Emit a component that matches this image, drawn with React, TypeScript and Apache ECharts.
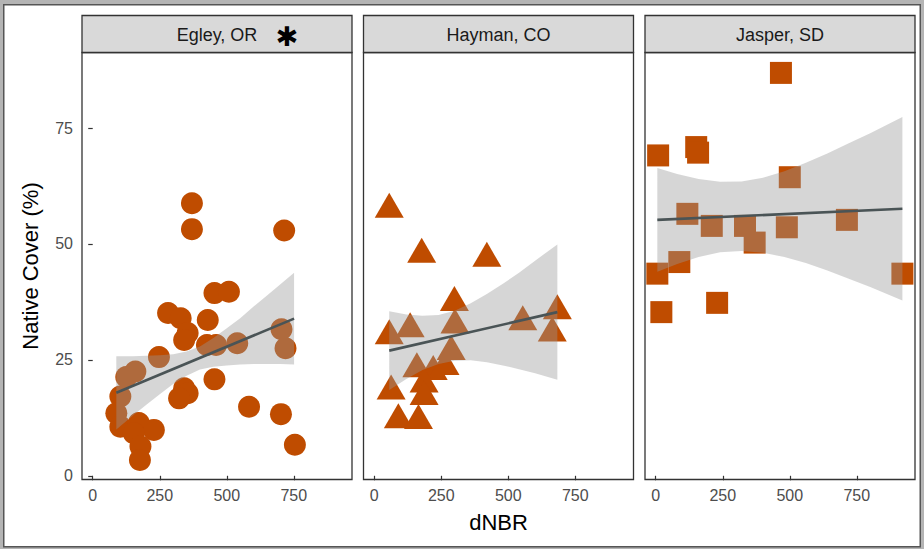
import React, { useEffect, useRef } from "react";
import * as echarts from "echarts";

// ---- data ----
const panelNames = ["Egley, OR", "Hayman, CO", "Jasper, SD"];
const xTickValues = [0, 250, 500, 750];
const yTickValues = [0, 25, 50, 75];

const egleyX = [370, 370, 714, 454, 508, 281, 328, 429, 354, 341, 426, 460, 539, 704, 719, 247, 125, 159, 341, 354, 322, 454, 103, 88, 103, 172, 228, 153, 178, 176, 583, 702, 754];
const egleyY = [58.8, 53.2, 52.9, 39.4, 39.7, 35.1, 34.0, 33.6, 30.8, 29.3, 28.2, 28.2, 28.6, 31.6, 27.5, 25.6, 21.3, 22.5, 18.9, 17.8, 16.7, 20.8, 17.1, 13.5, 10.6, 11.4, 9.9, 9.2, 6.3, 3.4, 14.9, 13.3, 6.7];

const haymanX = [56, 177, 420, 299, 683, 554, 134, 56, 301, 664, 287, 159, 220, 264, 186, 186, 63, 90, 165];
const haymanY = [57.5, 47.8, 46.9, 37.4, 35.6, 33.2, 31.7, 30.2, 32.5, 30.8, 26.8, 23.1, 22.5, 23.6, 19.8, 17.1, 18.3, 12.1, 11.9];

const jasperX = [9, 151, 158, 500, 118, 209, 333, 369, 489, 713, 88, 6, 920, 21, 229, 467];
const jasperY = [69.1, 70.9, 69.7, 64.4, 56.5, 53.9, 53.9, 50.3, 53.6, 55.2, 46.1, 43.6, 43.6, 35.3, 37.3, 86.9];

// fitted lines (end points) and confidence bands
const egleyFitX = [88, 751];
const egleyFitY = [17.9, 33.9];
const egleyBandX = [88, 150, 200, 250, 300, 350, 400, 450, 500, 550, 600, 650, 700, 751];
const egleyBandLow = [10.0, 13.0, 15.3, 17.6, 19.8, 21.6, 22.9, 23.5, 23.8, 24.0, 24.1, 24.1, 24.1, 24.0];
const egleyBandHigh = [25.8, 25.8, 25.9, 26.0, 26.2, 26.8, 27.9, 29.7, 31.8, 34.0, 36.5, 38.9, 41.3, 43.8];

const haymanFitX = [56, 683];
const haymanFitY = [27.0, 35.3];
const haymanBandX = [56, 120, 180, 240, 300, 360, 420, 480, 540, 600, 683];
const haymanBandLow = [18.5, 20.9, 22.8, 24.1, 24.8, 24.9, 24.5, 23.8, 23.0, 22.1, 20.7];
const haymanBandHigh = [35.5, 34.8, 34.5, 34.7, 35.6, 37.2, 39.2, 41.4, 43.8, 46.4, 49.9];

const jasperFitX = [6, 920];
const jasperFitY = [55.2, 57.6];
const jasperBandX = [6, 80, 160, 240, 320, 400, 480, 560, 640, 720, 800, 920];
const jasperBandLow = [44.0, 45.7, 47.2, 48.2, 48.5, 48.1, 47.2, 45.9, 44.3, 42.5, 40.7, 37.8];
const jasperBandHigh = [66.4, 65.1, 64.0, 63.4, 63.5, 64.3, 65.7, 67.5, 69.5, 71.7, 73.9, 77.4];

// ---- styling / layout ----
const FONT = "'Liberation Sans', Arial, sans-serif";
const POINT_COLOR = "#BF4C00";
const LINE_COLOR = "#4A5456";
const panelLefts = [82, 363.5, 645];
const panelTop = 52.5;
const panelW = 270;
const panelH = 427;
const stripTop = 15.5;

function zip(xs: number[], ys: number[]) {
  return xs.map((x, i) => [x, ys[i]]);
}

function bandSeries(xs: number[], lo: number[], hi: number[], idx: number) {
  return {
    type: "custom",
    xAxisIndex: idx,
    yAxisIndex: idx,
    z: 3,
    silent: true,
    data: [[xs[0], lo[0]]],
    renderItem: (params: any, api: any) => {
      const pts: number[][] = [];
      xs.forEach((x, i) => pts.push(api.coord([x, hi[i]])));
      for (let i = xs.length - 1; i >= 0; i--) pts.push(api.coord([xs[i], lo[i]]));
      return {
        type: "polygon",
        shape: { points: pts },
        style: { fill: "#999999", opacity: 0.4 },
      };
    },
  };
}

function fitSeries(xs: number[], ys: number[], idx: number) {
  return {
    type: "line",
    xAxisIndex: idx,
    yAxisIndex: idx,
    z: 4,
    silent: true,
    data: zip(xs, ys),
    showSymbol: false,
    symbol: "none",
    lineStyle: { color: LINE_COLOR, width: 2.6 },
  };
}

function centeredText(text: string, x: number, y: number, fontSize: number, fill: string, extra: any = {}) {
  return {
    type: "text",
    z: 11,
    silent: true,
    x,
    y,
    ...extra,
    style: {
      text,
      fill,
      fontSize,
      fontFamily: FONT,
      align: "center",
      verticalAlign: "middle",
      textAlign: "center",
      textVerticalAlign: "middle",
      ...(extra.style || {}),
    },
  };
}

export default function App() {
  const ref = useRef<HTMLDivElement>(null);
  useEffect(() => {
    if (!ref.current) return;
    const chart = echarts.init(ref.current, undefined, { renderer: "svg" });

    const graphicEls: any[] = [
      { type: "rect", z: -20, silent: true, shape: { x: 0, y: 0, width: 924, height: 549 }, style: { fill: "#b4b4b4" } },
      { type: "rect", z: -19, silent: true, shape: { x: 3.75, y: 4.75, width: 916.5, height: 542 }, style: { fill: "#ffffff", stroke: "#555555", lineWidth: 1.5 } },
    ];
    panelLefts.forEach((l, i) => {
      graphicEls.push({
        type: "rect",
        z: 10,
        silent: true,
        shape: { x: l, y: stripTop, width: panelW, height: panelTop - stripTop },
        style: { fill: "#D9D9D9", stroke: "#333333", lineWidth: 1.3 },
      });
      graphicEls.push(centeredText(panelNames[i], l + panelW / 2, (stripTop + panelTop) / 2 + 0.5, 18, "#1A1A1A"));
    });
    graphicEls.push({
      type: "text",
      z: 11,
      silent: true,
      x: 287,
      y: 36.5,
      style: {
        text: "✱",
        fill: "#000000",
        fontSize: 27,
        fontFamily: "'DejaVu Sans', sans-serif",
        align: "center",
        verticalAlign: "middle",
        textAlign: "center",
        textVerticalAlign: "middle",
      },
    });
    graphicEls.push(centeredText("Native Cover (%)", 30, panelTop + panelH / 2, 22, "#000000", { rotation: Math.PI / 2 }));
    graphicEls.push(centeredText("dNBR", panelLefts[1] + panelW / 2, 522, 22, "#000000"));

    const option: any = {
      animation: false,
      graphic: { elements: graphicEls },
      grid: panelLefts.map((l) => ({
        left: l,
        top: panelTop,
        width: panelW,
        height: panelH,
        show: true,
        backgroundColor: "#ffffff",
        borderColor: "#333333",
        borderWidth: 1.3,
        containLabel: false,
      })),
      xAxis: [0, 1, 2].map((i) => ({
        type: "value",
        gridIndex: i,
        min: -40,
        max: 967,
        axisLine: { show: false },
        splitLine: { show: false },
        axisTick: {
          show: true,
          customValues: xTickValues,
          length: 4.5,
          lineStyle: { color: "#333333", width: 1.2 },
        },
        axisLabel: {
          show: true,
          customValues: xTickValues,
          color: "#4D4D4D",
          fontSize: 16,
          fontFamily: FONT,
          margin: 8,
        },
      })),
      yAxis: [0, 1, 2].map((i) => ({
        type: "value",
        gridIndex: i,
        min: -0.8,
        max: 91.3,
        axisLine: { show: false },
        splitLine: { show: false },
        axisTick: {
          show: i === 0,
          customValues: yTickValues,
          length: 4.5,
          lineStyle: { color: "#333333", width: 1.2 },
        },
        axisLabel: {
          show: i === 0,
          customValues: yTickValues,
          color: "#4D4D4D",
          fontSize: 16,
          fontFamily: FONT,
          margin: 9,
        },
      })),
      series: [
        {
          type: "scatter",
          xAxisIndex: 0,
          yAxisIndex: 0,
          z: 2,
          symbol: "circle",
          symbolSize: 22,
          itemStyle: { color: POINT_COLOR, opacity: 1 },
          data: zip(egleyX, egleyY),
        },
        {
          type: "scatter",
          xAxisIndex: 1,
          yAxisIndex: 1,
          z: 2,
          symbol: "triangle",
          symbolSize: [29, 25],
          symbolOffset: [0, -4],
          itemStyle: { color: POINT_COLOR, opacity: 1 },
          data: zip(haymanX, haymanY),
        },
        {
          type: "scatter",
          xAxisIndex: 2,
          yAxisIndex: 2,
          z: 2,
          symbol: "rect",
          symbolSize: 22,
          itemStyle: { color: POINT_COLOR, opacity: 1 },
          data: zip(jasperX, jasperY),
        },
        bandSeries(egleyBandX, egleyBandLow, egleyBandHigh, 0),
        bandSeries(haymanBandX, haymanBandLow, haymanBandHigh, 1),
        bandSeries(jasperBandX, jasperBandLow, jasperBandHigh, 2),
        fitSeries(egleyFitX, egleyFitY, 0),
        fitSeries(haymanFitX, haymanFitY, 1),
        fitSeries(jasperFitX, jasperFitY, 2),
      ],
    };
    chart.setOption(option);
    return () => chart.dispose();
  }, []);

  return (
    <div
      ref={ref}
      style={{ position: "absolute", left: 0, top: 0, width: 924, height: 549 }}
    />
  );
}
